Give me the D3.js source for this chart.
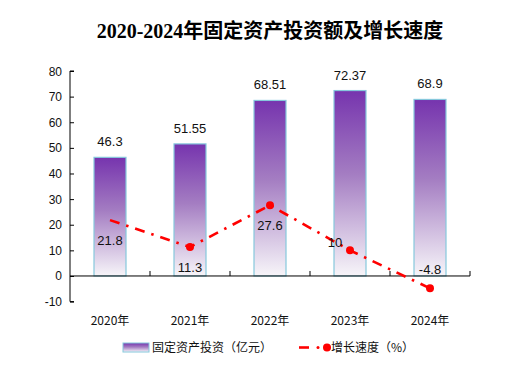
<!DOCTYPE html>
<html><head><meta charset="utf-8">
<script src="https://cdn.jsdelivr.net/npm/d3@7/dist/d3.min.js"></script>
<style>body{margin:0;background:#fff}svg{display:block}</style>
</head><body>
<script>
const title = "2020-2024年固定资产投资额及增长速度";
const years = ["2020年","2021年","2022年","2023年","2024年"];
const investment = [46.3, 51.55, 68.51, 72.37, 68.9];
const growth = [21.8, 11.3, 27.6, 10, -4.8];
const growthLabelSide = ["below","below","below","left","above"];
const growthMarker = [false, true, true, true, true];
const yTicks = [-10,0,10,20,30,40,50,60,70,80];
const legendBar = "固定资产投资（亿元）";
const legendLine = "增长速度（%）";

const W = 523, H = 369;
const svg = d3.select("body").append("svg").attr("width", W).attr("height", H);
const sans = "Liberation Sans, Arial, sans-serif";
const cjk = "'Noto Sans CJK SC', sans-serif";

const defs = svg.append("defs");
const grad = defs.append("linearGradient").attr("id","bg").attr("x1",0).attr("y1",0).attr("x2",0).attr("y2",1);
grad.append("stop").attr("offset","0%").attr("stop-color","#7634ae");
grad.append("stop").attr("offset","45%").attr("stop-color","#a47dc2");
grad.append("stop").attr("offset","100%").attr("stop-color","#f7f5f9");

svg.append("text").attr("x", 270).attr("y", 38).attr("text-anchor","middle")
  .attr("font-family","'Liberation Serif', 'Noto Sans CJK SC', serif").attr("font-weight","bold")
  .attr("font-size", 20).attr("fill","#000").text(title);

const x = d3.scaleBand().domain(years).range([70,470]).paddingInner(0.6).paddingOuter(0.3);
const y = d3.scaleLinear().domain([-10,80]).range([301.6,71]);

// bars
svg.selectAll("rect.bar").data(investment).join("rect").attr("class","bar")
  .attr("x",(d,i)=>x(years[i])).attr("width",x.bandwidth())
  .attr("y",d=>y(d)).attr("height",d=>y(0)-y(d))
  .attr("fill","url(#bg)").attr("stroke","#86c8dc").attr("stroke-width",1.2);

svg.selectAll("text.bl").data(investment).join("text").attr("class","bl")
  .attr("x",(d,i)=>x(years[i])+x.bandwidth()/2).attr("y",d=>y(d)-11)
  .attr("text-anchor","middle").attr("font-family",sans).attr("font-size",13).attr("fill","#111")
  .text(d=>d);

// axes
const yAxis = d3.axisRight(y).tickValues(yTicks).tickSize(4).tickFormat(d3.format("d"));
const ga = svg.append("g").attr("transform","translate(70,0)").call(yAxis);
ga.selectAll("text").remove();
ga.select(".domain").attr("d", `M4,${y(80)}H0V${y(-10)}H4`).attr("stroke","#000");
ga.selectAll("line").attr("stroke","#000");
svg.selectAll("text.yl").data(yTicks).join("text").attr("class","yl")
  .attr("x",62).attr("y",d=>y(d)+4.5).attr("text-anchor","end")
  .attr("font-family",sans).attr("font-size",12).attr("fill","#111").text(d=>d);

const xb = svg.append("g");
xb.append("line").attr("x1",70).attr("x2",470).attr("y1",y(0)).attr("y2",y(0)).attr("stroke","#000");
const step = x.step();
const tickXs = years.map((d,i)=>70+step*(i+1));
xb.selectAll("line.t").data(tickXs).join("line").attr("class","t")
  .attr("x1",d=>d).attr("x2",d=>d).attr("y1",y(0)).attr("y2",y(0)-5).attr("stroke","#000");
svg.selectAll("text.xl").data(years).join("text").attr("class","xl")
  .attr("x",d=>x(d)+x.bandwidth()/2).attr("y",325).attr("text-anchor","middle")
  .attr("font-family",cjk).attr("font-size",12).attr("fill","#111").text(d=>d);

// line
const cx = i => x(years[i]) + x.bandwidth()/2;
const line = d3.line().x((d,i)=>cx(i)).y(d=>y(d));
svg.append("path").datum(growth).attr("d",line).attr("fill","none")
  .attr("stroke","#ff0000").attr("stroke-width",2.6).attr("stroke-dasharray","10,7,2.5,7");
svg.selectAll("circle.m").data(growth).join("circle").attr("class","m")
  .attr("cx",(d,i)=>cx(i)).attr("cy",d=>y(d)).attr("r",(d,i)=>growthMarker[i]?4:0)
  .attr("fill","#ff0000");
svg.selectAll("text.gl").data(growth).join("text").attr("class","gl")
  .attr("x",(d,i)=>growthLabelSide[i]==="left"? cx(i)-15 : cx(i))
  .attr("y",(d,i)=>{const s=growthLabelSide[i]; return s==="below"? y(d)+25 : s==="above"? y(d)-14 : y(d)-3;})
  .attr("text-anchor","middle")
  .attr("font-family",sans).attr("font-size",13).attr("fill","#111").text(d=>d);

// legend
svg.append("rect").attr("x",123).attr("y",343).attr("width",26).attr("height",9)
  .attr("fill","url(#bg)").attr("stroke","#86c8dc");
svg.append("text").attr("x",152).attr("y",352).attr("font-family",cjk).attr("font-size",12).attr("fill","#111").text(legendBar);
svg.append("line").attr("x1",299).attr("x2",309).attr("y1",347.5).attr("y2",347.5).attr("stroke","#ff0000").attr("stroke-width",2.6);
svg.append("circle").attr("cx",318).attr("cy",347.5).attr("r",1.5).attr("fill","#ff0000");
svg.append("circle").attr("cx",327).attr("cy",347.5).attr("r",4).attr("fill","#ff0000");
svg.append("text").attr("x",331).attr("y",352).attr("font-family",cjk).attr("font-size",12).attr("fill","#111").text(legendLine);
</script>
</body></html>
